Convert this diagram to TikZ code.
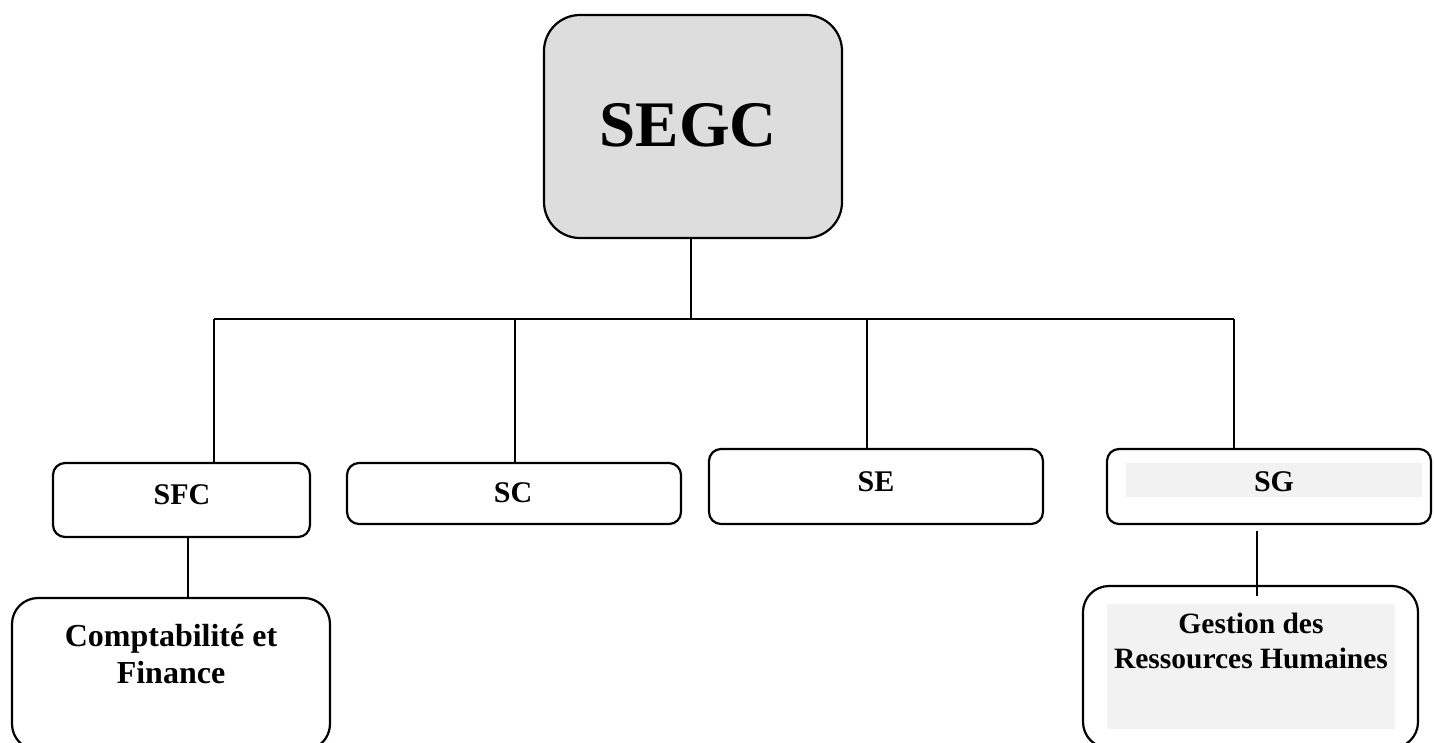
\documentclass[tikz,border=0pt]{standalone}
\usepackage{fontspec}
\setmainfont{Liberation Serif}
\definecolor{segcgray}{HTML}{DDDDDD}
\definecolor{bandgray}{HTML}{F2F2F2}
\begin{document}
\begin{tikzpicture}[x=1pt,y=-1pt,
  box/.style={draw=black,line width=2.2pt,rounded corners=12pt,inner sep=0pt},
  band/.style={fill=bandgray,draw=none,inner sep=0pt},
  lbl/.style={font=\fontsize{30}{36}\selectfont\bfseries,inner sep=0pt,align=center},
  wire/.style={line width=1.8pt}]
\useasboundingbox (0,0) rectangle (1434,742);
% boxes
\node[box,rounded corners=36pt,fill=segcgray,minimum width=298pt,minimum height=223pt] (segc) at (693,126.5) {};
\node[box,minimum width=257pt,minimum height=74pt] (sfc) at (181.5,500) {};
\node[box,minimum width=334pt,minimum height=61pt] (sc) at (514,493.5) {};
\node[box,minimum width=334pt,minimum height=75pt] (se) at (876,486.5) {};
\node[box,minimum width=324pt,minimum height=75pt] (sg) at (1269,486.5) {};
\node[band,minimum width=296pt,minimum height=34pt] (sgband) at (1274,480) {};
\node[box,rounded corners=26pt,minimum width=318pt,minimum height=152pt] (cf) at (171,674) {};
\node[box,rounded corners=26pt,minimum width=335pt,minimum height=162pt] (grh) at (1250.5,667) {};
\node[band,minimum width=288pt,minimum height=125pt] (grhband) at (1251,666.5) {};
% labels
\node[lbl,font=\fontsize{65}{70}\selectfont\bfseries] (segct) at (688,125) {SEGC};
\node[lbl] (sfct) at (182,495) {SFC};
\node[lbl] (sct) at (513,493) {SC};
\node[lbl] (set) at (876,482) {SE};
\node[lbl] (sgt) at (1274,482) {SG};
\node[lbl,font=\fontsize{32}{37}\selectfont\bfseries] (cft) at (171,654) {Comptabilité et\\Finance};
\node[lbl,font=\fontsize{29.5}{35}\selectfont\bfseries] (grht) at (1251,641) {Gestion des\\Ressources Humaines};
% connectors
\coordinate (hub) at (691,319);
\coordinate (busl) at (214,319);
\coordinate (busr) at (1234,319);
\coordinate (d2) at (515,319);
\coordinate (d3) at (867,319);
\draw[wire] (segc.south -| hub) -- (hub);
\draw[wire] (busl) -- (busr);
\draw[wire] (busl) -- (busl |- sfc.north);
\draw[wire] (d2) -- (d2 |- sc.north);
\draw[wire] (d3) -- (d3 |- se.north);
\draw[wire] (busr) -- (busr |- sg.north);
\coordinate (cfdrop) at (188,537);
\draw[wire] (cfdrop) -- (cfdrop |- cf.north);
\coordinate (g1) at (1257,531);
\coordinate (g2) at (1257,596);
\draw[wire] (g1) -- (g2);
\end{tikzpicture}
\end{document}
